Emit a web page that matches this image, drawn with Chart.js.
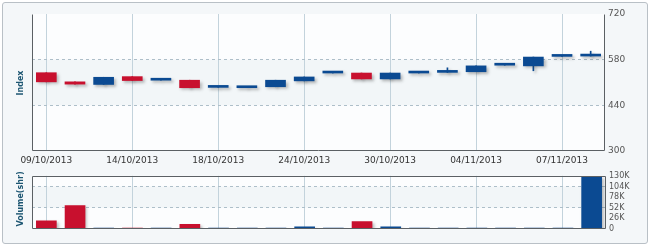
<!DOCTYPE html>
<html><head><meta charset="utf-8">
<script src="https://cdn.jsdelivr.net/npm/chart.js@4/dist/chart.umd.min.js"></script>
<style>
html,body{margin:0;padding:0;background:#fff;width:650px;height:247px;overflow:hidden;font-family:"DejaVu Sans",sans-serif}
#frame{position:absolute;left:2px;top:2px;width:644px;height:240px;border:1px solid #b9c0c6;border-radius:3px;background:#f4f7f9}
#pc{position:absolute;left:0;top:0}
#vc{position:absolute;left:0;top:168px}
.ttl{position:absolute;font:bold 8px "DejaVu Sans",sans-serif;color:#1d5672;white-space:nowrap;transform:translate(-50%,-50%) rotate(-90deg)}
</style></head>
<body>
<div id="frame"></div>
<canvas id="pc" width="650" height="168"></canvas>
<canvas id="vc" width="650" height="79"></canvas>
<div class="ttl" style="left:20px;top:83px">Index</div>
<div class="ttl" style="left:20px;top:199px">Volume(shr)</div>
<script>
const dates = ['09/10/2013','10/10/2013','11/10/2013','14/10/2013','15/10/2013','17/10/2013','18/10/2013','21/10/2013','22/10/2013','24/10/2013','25/10/2013','28/10/2013','30/10/2013','31/10/2013','01/11/2013','04/11/2013','05/11/2013','06/11/2013','07/11/2013','08/11/2013'];
const openV  = [540,512,504,528,517,517,495,494,497,515,539,539,521,539,541,543,563,561,590,591];
const closeV = [512,505,526,516,517,494,495,497,517,527,539,521,539,539,541,561,563,588,590,591];
const highV  = [540,512,526,528,517,517,495,497,517,527,539,539,539,539,555,561,563,588,590,606];
const lowV   = [512,505,504,516,517,494,495,494,497,515,539,521,521,539,541,543,563,546,590,591];
const volumeV = [20000,57000,2000,2000,500,11500,2000,500,1500,5000,1500,18000,5000,1500,1500,1500,400,1500,1500,128000];
const priceTicks = [300,440,580,720];
const priceDashed = [440,580];
const volumeTicks = [0,26000,52000,78000,104000,130000];
const volumeDashed = [52000,104000];

const RED = '#c8102e', BLUE = '#0b4a92';
const upColor = i => closeV[i] >= openV[i] ? BLUE : RED;

const fontTick = {family:'"DejaVu Sans", sans-serif', size:9};

function bgPlugin(dashed){
  return {id:'bg', beforeDraw(chart){
    const {ctx, chartArea:a, scales:{y}} = chart;
    ctx.save();
    ctx.fillStyle = '#fcfdfe';
    ctx.fillRect(a.left, a.top, a.right-a.left, a.bottom-a.top);
    const y1 = y.getPixelForValue(Math.max(...dashed)), y2 = y.getPixelForValue(Math.min(...dashed));
    ctx.fillStyle = '#f2f6f8';
    ctx.fillRect(a.left, y1, a.right-a.left, y2-y1);
    ctx.restore();
  }};
}
function framePlugin(sides){
  return {id:'frame', afterDraw(chart){
    const {ctx, chartArea:a} = chart;
    ctx.save();
    ctx.strokeStyle = '#5b6064'; ctx.lineWidth = 1;
    ctx.beginPath();
    const L = Math.round(a.left)+0.5, R = Math.round(a.right)-0.5, T = Math.round(a.top)+0.5, B = Math.round(a.bottom)-0.5;
    if (sides.includes('l')) { ctx.moveTo(L, T); ctx.lineTo(L, B); }
    if (sides.includes('r')) { ctx.moveTo(R, T); ctx.lineTo(R, B); }
    if (sides.includes('b')) { ctx.moveTo(L, B); ctx.lineTo(R, B); }
    if (sides.includes('t')) { ctx.moveTo(L, T); ctx.lineTo(R, T); }
    ctx.stroke();
    ctx.restore();
  }};
}
const shadowPlugin = {id:'shadow',
  beforeDatasetsDraw(chart){ const c=chart.ctx; c.save(); c.shadowColor='rgba(60,60,60,0.35)'; c.shadowBlur=3; c.shadowOffsetX=2; c.shadowOffsetY=2; },
  afterDatasetsDraw(chart){ chart.ctx.restore(); }
};

const xCommon = {
  offset:true,
  grid:{offset:false, drawTicks:false, color: c => (c.index % 3 === 0 ? '#c3d3dc' : 'transparent')},
  border:{display:false}
};

new Chart(document.getElementById('pc'), {
  type:'bar',
  data:{labels:dates, datasets:[
    {data: dates.map((d,i)=>[openV[i], closeV[i]]), backgroundColor: dates.map((d,i)=>upColor(i)), barThickness:20, minBarLength:2, grouped:false, order:1},
    {data: dates.map((d,i)=>[lowV[i], highV[i]]), backgroundColor: dates.map((d,i)=>upColor(i)), barThickness:1, grouped:false, order:2}
  ]},
  options:{
    responsive:false, animation:false,
    layout:{padding:{left:32, top:14, right:0, bottom:0}},
    plugins:{legend:{display:false}, tooltip:{enabled:false}},
    scales:{
      x:{...xCommon,
        ticks:{autoSkip:false, maxRotation:0, padding:4, color:'#333', font:fontTick,
          callback:(v,i)=> i%3===0 ? dates[i] : ''},
        afterFit: s => { s.height = 17; }
      },
      y:{position:'right', min:300, max:720,
        afterBuildTicks: s => { s.ticks = priceTicks.map(v=>({value:v})); },
        grid:{drawTicks:false, color: c => (priceDashed.includes(c.tick.value) ? '#aebfc9' : 'transparent')},
        border:{display:false, dash:[3,3]},
        ticks:{padding:3, color:'#555', font:fontTick, autoSkip:false},
        afterFit: s => { s.width = 45; }
      }
    }
  },
  plugins:[bgPlugin(priceDashed), framePlugin('lrb'), shadowPlugin]
});

new Chart(document.getElementById('vc'), {
  type:'bar',
  data:{labels:dates, datasets:[
    {data: volumeV, backgroundColor: dates.map((d,i)=>upColor(i)), barThickness:20, minBarLength:1}
  ]},
  options:{
    responsive:false, animation:false,
    layout:{padding:{left:32, top:1, right:0, bottom:0}},
    plugins:{legend:{display:false}, tooltip:{enabled:false}},
    scales:{
      x:{...xCommon, ticks:{display:false}, afterFit: s => { s.height = 18; }},
      y:{position:'right', min:0, max:130000,
        afterBuildTicks: s => { s.ticks = volumeTicks.map(v=>({value:v})); },
        grid:{drawTicks:false, color: c => (volumeDashed.includes(c.tick.value) ? '#aebfc9' : 'transparent')},
        border:{display:false, dash:[3,3]},
        ticks:{padding:3, color:'#555', font:{family:'"DejaVu Sans", sans-serif', size:8}, autoSkip:false,
          callback: v => v === 0 ? '0' : (v/1000)+'K'},
        afterFit: s => { s.width = 44; }
      }
    }
  },
  plugins:[bgPlugin(volumeDashed), framePlugin('lrbt'), shadowPlugin]
});
</script>
</body></html>
